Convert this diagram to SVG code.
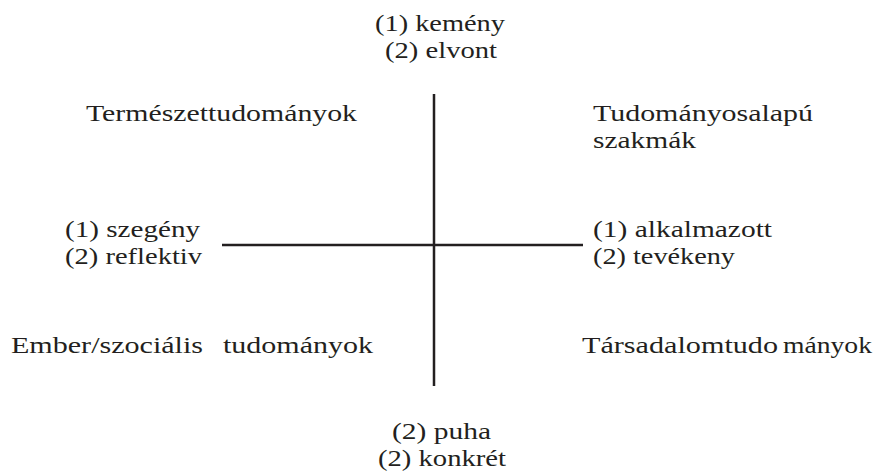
<svg xmlns="http://www.w3.org/2000/svg" width="875" height="472" viewBox="0 0 875 472">
<style>
text{font-family:"Liberation Serif","Times New Roman",serif;font-size:24px;fill:#231f20}
.ax{stroke:#231f20;stroke-width:2.5;fill:none}
</style>
<rect width="875" height="472" fill="#fff"/>
<g id="connectors">
<line class="ax" x1="434" y1="94" x2="434" y2="386"/>
<line class="ax" x1="222" y1="245" x2="583" y2="245"/>
</g>
<g id="top">
<text x="375" y="31" textLength="130" lengthAdjust="spacingAndGlyphs">(1) kemény</text>
<text x="385" y="58" textLength="112" lengthAdjust="spacingAndGlyphs">(2) elvont</text>
</g>
<g id="q1">
<text x="86" y="121" textLength="271" lengthAdjust="spacingAndGlyphs">Természettudományok</text>
</g>
<g id="q2">
<text x="593" y="121" textLength="220" lengthAdjust="spacingAndGlyphs">Tudományosalapú</text>
<text x="593" y="148" textLength="103" lengthAdjust="spacingAndGlyphs">szakmák</text>
</g>
<g id="left">
<text x="65" y="237" textLength="135" lengthAdjust="spacingAndGlyphs">(1) szegény</text>
<text x="65" y="264" textLength="137" lengthAdjust="spacingAndGlyphs">(2) reflektiv</text>
</g>
<g id="right">
<text x="593" y="237" textLength="179" lengthAdjust="spacingAndGlyphs">(1) alkalmazott</text>
<text x="593" y="264" textLength="142" lengthAdjust="spacingAndGlyphs">(2) tevékeny</text>
</g>
<g id="q3">
<text x="11" y="353" textLength="192" lengthAdjust="spacingAndGlyphs">Ember/szociális</text>
<text x="223" y="353" textLength="150" lengthAdjust="spacingAndGlyphs">tudományok</text>
</g>
<g id="q4">
<text x="582" y="353" textLength="196" lengthAdjust="spacingAndGlyphs">Társadalomtudo</text>
<text x="783" y="353" textLength="89" lengthAdjust="spacingAndGlyphs">mányok</text>
</g>
<g id="bottom">
<text x="392" y="439" textLength="99" lengthAdjust="spacingAndGlyphs">(2) puha</text>
<text x="378" y="466" textLength="128" lengthAdjust="spacingAndGlyphs">(2) konkrét</text>
</g>
</svg>
